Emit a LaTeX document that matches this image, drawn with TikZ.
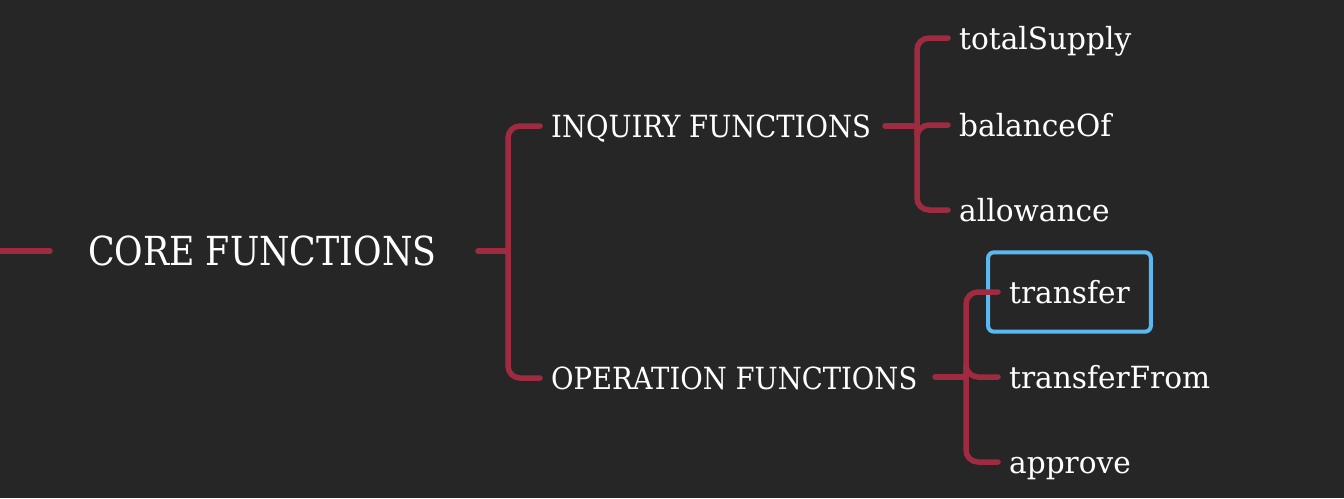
\documentclass[tikz,border=0pt]{standalone}
\usepackage{fontspec}
\setmainfont{DejaVu Serif}
\newfontfamily\radicefont[FakeStretch=0.87]{DejaVu Serif}
\newfontfamily\gruppofont[FakeStretch=0.90]{DejaVu Serif}
\newfontfamily\fogliafont[FakeStretch=0.97]{DejaVu Serif}
\usetikzlibrary{positioning, fit}
\definecolor{sfondo}{HTML}{262626}
\definecolor{rosso}{HTML}{9E2B3F}
\definecolor{azzurro}{HTML}{5BB9F2}

\begin{document}
\begin{tikzpicture}[x=1pt, y=-1pt,
  ramo/.style={draw=rosso, line width=5.5pt, line cap=round, rounded corners=12pt},
  radice/.style={anchor=west, inner sep=0pt, text=white,
    font=\radicefont\fontsize{40}{48}\selectfont, text height=29pt, text depth=0pt},
  gruppo/.style={anchor=west, inner sep=0pt, text=white,
    font=\gruppofont\fontsize{30.5}{36}\selectfont, text height=22pt, text depth=0pt},
  voce/.style={anchor=west, inner sep=0pt, text=white,
    font=\fogliafont\fontsize{30.5}{36}\selectfont, text height=22pt, text depth=0pt},
  selez/.style={draw=azzurro, line width=4pt, rounded corners=6pt,
    inner xsep=21pt, inner ysep=28.5pt}]
  % sfondo e cornice dell'immagine
  \fill[sfondo] (0,0) rectangle (1344,498);
  \useasboundingbox (0,0) rectangle (1344,498);
  % nodi principali
  \node[radice] (core) at (88,251) {CORE FUNCTIONS};
  \node[gruppo] (inq) at (551,126) {INQUIRY FUNCTIONS};
  \node[gruppo] (op)  at (551,378) {OPERATION FUNCTIONS};
  \coordinate (ingresso) at (0,251);
  \coordinate (core-fork) at (508,251);
  \coordinate (inq-fork)  at (917,126);
  \coordinate (op-fork)   at (966,377);
  % foglie
  \foreach \n/\t/\y in {ts/totalSupply/38, bo/balanceOf/125, al/allowance/210}{
    \node[voce] (\n) at (959,\y) {\t};
  }
  \foreach \n/\t/\y in {tr/transfer/292, tf/transferFrom/377, ap/approve/462}{
    \node[voce] (\n) at (1009,\y) {\t};
  }
  \node[selez, fit=(tr)] (sel) {};
  % rami
  \draw[ramo] (ingresso) -- ([xshift=-38]core.west);
  \draw[ramo] ([xshift=-30]core-fork) -- (core-fork);
  \foreach \n in {inq, op}{
    \draw[ramo] (core-fork) |- ([xshift=-11]\n.west);
  }
  \draw[ramo] ([xshift=-32]inq-fork) -- (inq-fork);
  \foreach \n in {ts, bo, al}{
    \draw[ramo] (inq-fork) |- ([xshift=-11]\n.west);
  }
  \draw[ramo] ([xshift=-31]op-fork) -- (op-fork);
  \foreach \n in {tr, tf, ap}{
    \draw[ramo] (op-fork) |- ([xshift=-11]\n.west);
  }
\end{tikzpicture}
\end{document}
